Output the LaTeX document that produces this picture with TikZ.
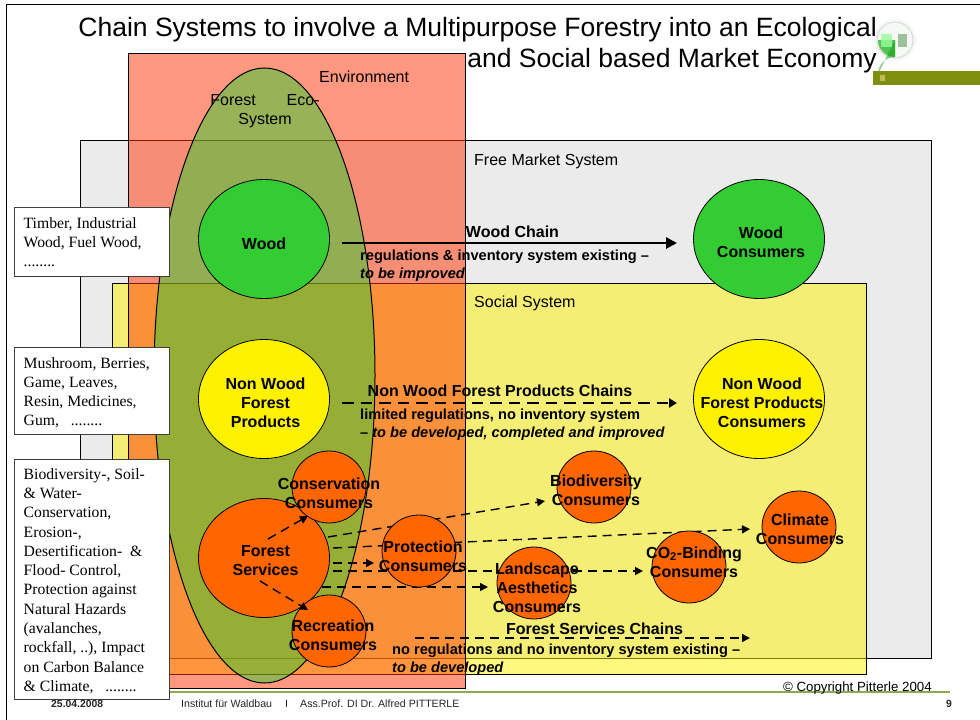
\documentclass[tikz,border=0pt]{standalone}
\usepackage{fontspec}
\setmainfont{Liberation Sans}
\newfontfamily\serifbox{Liberation Serif}
\usetikzlibrary{shapes.geometric,arrows.meta}
\pgfdeclarelayer{rects}
\pgfdeclarelayer{conn}
\pgfsetlayers{rects,conn,main}
\definecolor{svc}{HTML}{FF6600}
\definecolor{woodgreen}{HTML}{33CC33}
\definecolor{envred}{HTML}{FF3300}
\definecolor{footgreen}{HTML}{8CAA50}
\definecolor{barolive}{HTML}{7E8F10}
\tikzset{
  x=1pt,y=-1pt,
  bigcirc/.style={shape=ellipse,draw=black,line width=0.8pt,inner sep=0pt,minimum width=131pt,minimum height=119pt},
  smallcirc/.style={shape=ellipse,draw=black,line width=0.8pt,fill=svc,inner sep=0pt,minimum width=74pt,minimum height=72pt},
  every label/.style={font=\fontsize{16}{19}\selectfont\bfseries,align=center,inner sep=0pt,text=black},
  zone/.style={draw=black,line width=0.9pt},
  lab/.style={anchor=west,inner sep=0pt,font=\fontsize{16}{19}\selectfont,text=black},
  chainhead/.style={anchor=base,inner sep=0pt,font=\fontsize{16}{18}\selectfont\bfseries},
  chainnote/.style={anchor=base west,inner sep=0pt,font=\fontsize{14.6}{18}\selectfont\bfseries},
  thickarrow/.style={line width=2.8pt,-{Triangle[length=11pt,width=11pt]}},
  dasharrow/.style={line width=1.4pt,dash pattern=on 9pt off 6pt,-{Triangle[length=8pt,width=8pt]}},
  heavydash/.style={line width=2.2pt,dash pattern=on 11.5pt off 7pt,-{Triangle[length=8pt,width=9pt]}},
  sidebox/.style={draw=black!75,line width=1.1pt,fill=white,anchor=north west,minimum width=155pt,inner xsep=0pt,inner ysep=0pt},
  sidetext/.style={anchor=north west,inner sep=0pt,align=left,font=\serifbox\fontsize{15.7}{19}\selectfont},
  foot/.style={inner sep=0pt,anchor=base west,text=black!85}
}
\begin{document}
\begin{tikzpicture}
\useasboundingbox (0,0) rectangle (980,720);

\begin{pgfonlayer}{rects}
\fill[white] (0,0) rectangle (980,720);
\draw[black,line width=1pt] (980,4.5) -- (6,4.5) -- (6,720);
\draw[zone,fill=black!8] (80,140) rectangle (931,658);
\draw[zone,fill=yellow,fill opacity=.5] (112,283.5) rectangle (866,674);
\draw[zone,fill=envred,fill opacity=.5] (128,53.5) rectangle (465,688);
% ecosystem
\node[shape=ellipse,draw=black,line width=1pt,fill=woodgreen,fill opacity=.5,inner sep=0pt,minimum width=221pt,minimum height=615pt] (eco) at (264.5,375.5) {};
\end{pgfonlayer}

% logo
\fill[black!3] (895,40) circle (21);
\draw[green!30!black!18,line width=1pt] (895,40) circle (18);
\fill[green!65!black,opacity=.65] (895,40) -- (878,40) arc[start angle=180,end angle=90,radius=17] -- cycle;
\fill[green!60!black,opacity=.45] (895,40) -- (895,57) arc[start angle=270,end angle=180,radius=17] -- cycle;
\fill[green!40!white,opacity=.8] (881,34) rectangle (892,47);
\fill[green!40!black!55,opacity=.7] (898,34) rectangle (907,47);
\fill[barolive] (873,71) rectangle (980,85);
\fill[olive!55!white] (880,75) rectangle (885,81);

% header text
\node[inner sep=0pt,anchor=base east,font=\fontsize{26.5}{30}\selectfont] (t1) at (877,36.5) {Chain Systems to involve a Multipurpose Forestry into an Ecological};
\node[inner sep=0pt,anchor=base east,font=\fontsize{26.5}{30}\selectfont] (t2) at (877,67.5) {and Social based Market Economy};

\node[lab] (env) at (319,77) {Environment};
\node[anchor=center,inner sep=0pt,font=\fontsize{16}{19}\selectfont,align=center] (ecot) at (265,111) {Forest\hspace{31pt}Eco-\\System};
\node[lab] (fm) at (474,161) {Free Market System};
\node[lab] (soc) at (474,303) {Social System};

% big circles
\node[bigcirc,fill=woodgreen,label={[yshift=-5pt]center:Wood}] (wood) at (264,239) {};
\node[bigcirc,fill=woodgreen,label={[xshift=2pt,yshift=-3.5pt]center:Wood\\Consumers}] (woodc) at (759,239) {};
\node[bigcirc,fill=yellow,label={[xshift=1.5pt,yshift=-4pt]center:Non Wood\\Forest\\Products}] (nwfp) at (264,399) {};
\node[bigcirc,fill=yellow,label={[xshift=3pt,yshift=-4pt]center:Non Wood\\Forest Products\\Consumers}] (nwfpc) at (759,399) {};
\node[bigcirc,fill=svc,label={[xshift=1.5pt,yshift=-3pt]center:Forest\\Services}] (fs) at (264,558) {};

% small circles
\node[smallcirc,label={[yshift=-6pt]center:Conservation\\Consumers}] (cons) at (329,487) {};
\node[smallcirc,label={[xshift=4pt,yshift=-4.5pt]center:Recreation\\Consumers}] (recr) at (329,631) {};
\node[smallcirc,label={[xshift=4pt,yshift=-5.5pt]center:Protection\\Consumers}] (prot) at (419,551) {};
\node[smallcirc,label={[xshift=3pt,yshift=-4.5pt]center:Landscape\\Aesthetics\\Consumers}] (land) at (534,583) {};
\node[smallcirc,label={[xshift=2pt,yshift=-3pt]center:Biodiversity\\Consumers}] (bio) at (594,487) {};
\node[smallcirc,label={[xshift=1pt,yshift=-2pt]center:Climate\\Consumers}] (clim) at (799,527) {};
\node[smallcirc,label={[xshift=5pt,yshift=5pt]center:CO\textsubscript{2}-Binding\\Consumers}] (cotwo) at (689,567) {};

% connector ends
\coordinate (a) at (268,539);
\coordinate (b) at (308,516);
\coordinate (c) at (260,581);
\coordinate (d) at (308,610);
\coordinate (e) at (328,537);
\coordinate (f) at (545,501);
\coordinate (g) at (333,548);
\coordinate (h) at (750,529);
\coordinate (i) at (333,563);
\coordinate (j) at (374,563);
\coordinate (k) at (333,571);
\coordinate (l) at (643,571);
\coordinate (m) at (322,587);
\coordinate (n) at (488,587);
\coordinate (o) at (415,638);
\coordinate (p) at (750,638);
\coordinate (q) at (342,243);
\coordinate (r) at (677,243);
\coordinate (s) at (342,403);
\coordinate (u) at (677,403);

\begin{pgfonlayer}{conn}
\draw[dasharrow] (e) -- (f);
\draw[dasharrow] (g) -- (h);
\draw[dasharrow] (i) -- (j);
\draw[dasharrow] (k) -- (l);
\draw[dasharrow] (m) -- (n);
\end{pgfonlayer}
\draw[dasharrow] (a) -- (b);
\draw[dasharrow] (c) -- (d);
\draw[dasharrow] (o) -- (p);
\draw[thickarrow] (q) -- (r);
\draw[heavydash] (s) -- (u);

% chain labels
\node[chainhead] (wc) at (512.5,237) {Wood Chain};
\node[chainnote] (wn) at (360,260) {regulations \& inventory system existing –};
\node[chainnote] (wn2) at (360,278) {\itshape to be improved};
\node[chainhead] (nc) at (500,396) {Non Wood Forest Products Chains};
\node[chainnote] (nn) at (360,419) {limited regulations, no inventory system};
\node[chainnote] (nn2) at (360,437) {– \itshape to be developed, completed and improved};
\node[chainhead] (fc) at (594.5,634) {Forest Services Chains};
\node[chainnote] (fn) at (392,654) {no regulations and no inventory system existing –};
\node[chainnote] (fn2) at (392,672) {\itshape to be developed};

% side boxes
\node[sidebox,minimum height=69pt] (b1) at (14,207) {};
\node[sidetext] (b1t) at (23.5,217.5) {Timber, Industrial\\Wood, Fuel Wood,\\........};
\node[sidebox,minimum height=87pt] (b2) at (14,347) {};
\node[sidetext] (b2t) at (23.5,357) {Mushroom, Berries,\\Game, Leaves,\\Resin, Medicines,\\Gum,~~ ........};
\node[sidebox,minimum height=240pt] (b3) at (14,459) {};
\node[sidetext,font=\serifbox\fontsize{15.7}{19.3}\selectfont] (b3t) at (23.5,468) {Biodiversity-, Soil-\\\& Water-\\Conservation,\\Erosion-,\\Desertification-~ \&\\Flood- Control,\\Protection against\\Natural Hazards\\(avalanches,\\rockfall, ..), Impact\\on Carbon Balance\\\& Climate,~~ ........};

% footer
\draw[footgreen,line width=1.2pt] (170,692) -- (950,692);
\node[inner sep=0pt,anchor=base east,font=\fontsize{13.3}{14}\selectfont] (copy) at (932,691) {© Copyright Pitterle 2004};
\node[foot,font=\fontsize{10.4}{12}\selectfont\bfseries] (date) at (51,707) {25.04.2008};
\node[foot,font=\fontsize{10.6}{12}\selectfont] (inst) at (181,707) {Institut für Waldbau};
\node[foot,font=\fontsize{10.6}{12}\selectfont] (sep) at (285,707) {I};
\node[foot,font=\fontsize{10.6}{12}\selectfont] (auth) at (300,707) {Ass.Prof. DI Dr. Alfred PITTERLE};
\node[foot,font=\fontsize{10.4}{12}\selectfont\bfseries] (pg) at (946,707) {9};
\end{tikzpicture}
\end{document}
